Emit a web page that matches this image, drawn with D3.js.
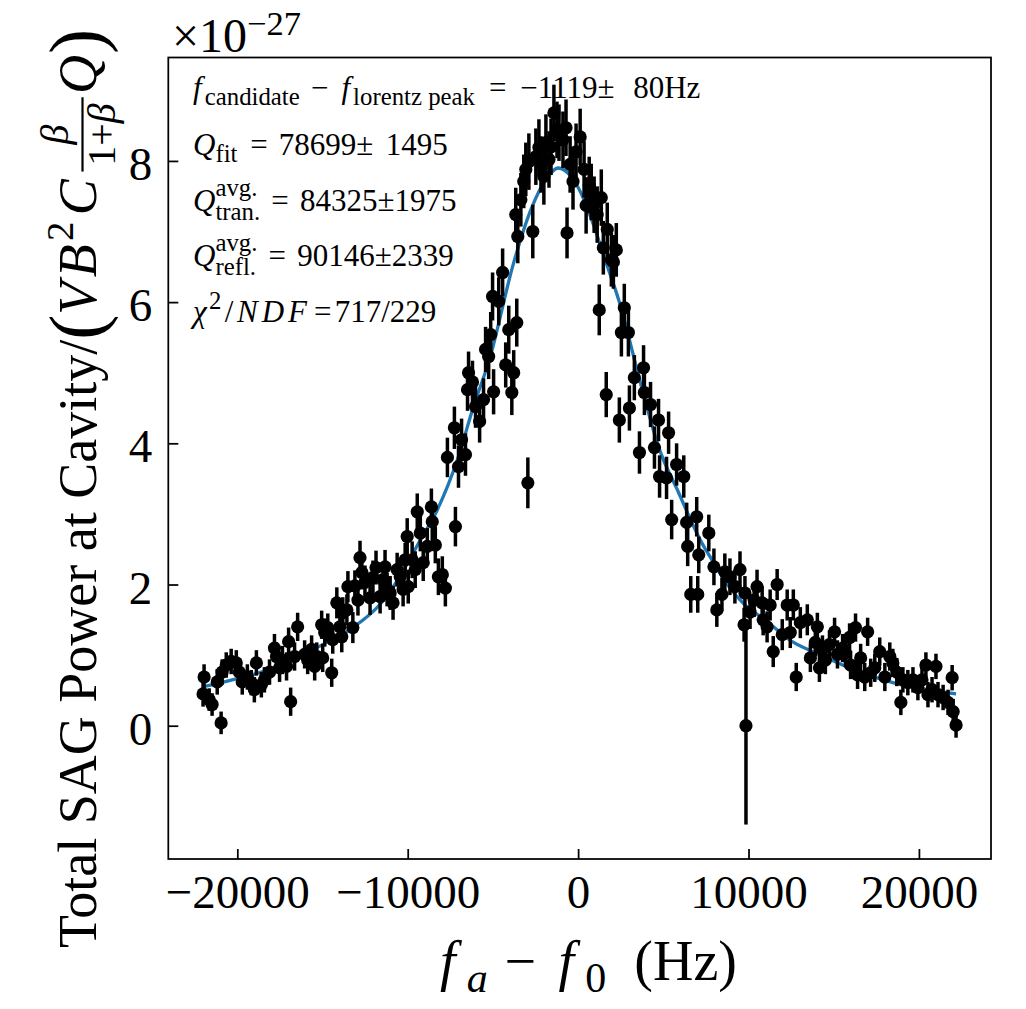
<!DOCTYPE html>
<html><head><meta charset="utf-8">
<script src="https://cdn.jsdelivr.net/npm/d3@7"></script>
<style>body{margin:0;background:#fff}svg{display:block}</style>
</head><body>
<svg id="c" width="1026" height="1009"></svg>
<script>
// ---------- data ----------
const freqHz = [
 -22010,-21950,-21650,-21480,-21180,-20950,-20890,-20650,-20360,-20060,-19880,-19710,-19410,-19180,-19000,-18880,-18590,-18410,-18110,-17820,-17700,-17520,-17350,-17110,-16990,-16870,-16640,-16460,
 -16050,-15870,-15640,-15460,-15340,-15050,-14990,-14870,-14690,-14460,-14400,-14160,-13980,-13870,-13810,-13570,-13510,-13220,-13100,-12920,-12800,-12690,-12510,-12210,-12040,-11860,-11620,-11450,-11330,-11210,-11030,-10860,-10620,
 -10440,-10270,-10150,-10030,-9970,-9740,-9560,-9440,-9260,-9090,-8850,-8610,-8560,-8380,-8200,-7970,-7790,-7670,-7260,-7200,-7020,-6840,-6610,-6490,-6430,-6200,-6020,-5780,
 -5550,-5430,-5250,-5130,-5020,-4960,-4660,-4430,-4250,-4070,-3890,-3780,-3660,-3600,-3540,-3360,-3190,-3070,-2950,-2890,-2660,-2480,-2300,-2180,-2010,-1890,-1710,-1590,-1420,-1240,
 -1120,-890,-710,-650,-470,-300,-120,120,350,470,650,770,940,1120,1240,1360,1480,1650,1710,1950,2070,2240,
 2420,2540,2710,2950,3010,3300,3600,3840,3890,4250,4480,4720,4780,5190,5310,5490,5780,6200,6370,6430,6610,6960,7020,7080,
 7670,7970,8140,8440,8610,8910,9200,9500,9740,9790,9850,10090,10330,10500,10800,10860,11090,11270,11450,11680,11980,12270,12450,12630,12800,13040,
 13450,13630,13920,14040,14160,14340,14510,14750,15050,15220,15520,15690,15930,15990,16280,16400,16580,16820,16990,17170,17410,17700,18000,18290,18470,18700,18940,19060,19350,19650,19940,20180,20410,20530,20770,21000,21120,21420,21710,21950,22010,22180
];
const power = [
 0.45,0.69,0.37,0.30,0.62,0.04,0.76,0.86,0.91,0.89,0.76,0.62,0.69,0.61,0.51,0.89,0.58,0.65,0.76,1.10,0.98,0.82,0.93,0.84,1.19,0.34,0.98,1.40,
 1.01,0.93,1.08,0.84,0.98,1.43,0.96,1.32,1.39,0.75,1.22,1.74,1.40,1.26,1.60,1.64,1.97,1.39,1.98,1.78,2.38,2.17,2.03,1.81,2.10,2.24,1.83,2.07,2.25,1.93,1.88,1.74,2.21,
 2.11,1.93,2.35,2.68,1.97,2.35,2.21,3.03,2.73,2.31,2.54,3.10,2.89,2.56,2.11,2.14,1.95,3.80,4.22,2.82,3.67,4.05,3.84,4.76,5.00,4.87,4.52,4.31,
 4.62,5.33,5.23,5.54,6.08,4.73,6.01,6.42,5.11,5.61,4.72,5.00,7.24,5.71,6.93,7.45,7.71,7.88,3.44,7.99,7.00,8.06,8.19,7.95,7.78,8.26,8.02,8.20,8.68,8.44,
 8.40,8.30,8.47,6.98,7.95,7.71,8.13,8.34,7.88,7.37,7.66,7.56,7.38,7.24,5.89,7.48,6.77,4.69,7.03,6.60,6.57,6.74,
 4.33,5.57,5.92,5.57,4.50,4.93,3.87,5.07,4.72,4.55,3.94,4.33,3.53,3.51,4.15,2.92,3.70,3.53,2.88,2.54,1.86,2.96,1.86,2.42,
 2.73,2.25,1.64,1.86,2.18,2.11,1.97,2.21,1.43,1.88,0.00,1.61,1.78,1.97,1.74,1.50,1.40,1.71,1.05,2.00,1.29,1.71,1.32,1.71,0.69,1.46,
 1.50,0.96,1.18,1.40,0.82,1.08,0.93,1.15,1.33,1.01,1.10,1.03,1.25,0.86,1.39,0.72,0.96,0.69,1.33,0.75,0.82,1.05,0.69,0.98,0.89,0.76,0.33,0.65,0.61,0.65,0.54,0.65,0.86,0.44,0.51,0.84,0.44,0.40,0.33,0.68,0.20,0.01
];
const powerErr = [
 0.18,0.18,0.16,0.16,0.18,0.16,0.18,0.18,0.18,0.18,0.18,0.18,0.18,0.18,0.18,0.18,0.18,0.18,0.18,0.2,0.2,0.2,0.2,0.2,0.2,0.2,0.2,0.2,
 0.2,0.2,0.2,0.2,0.2,0.2,0.2,0.2,0.2,0.2,0.2,0.22,0.22,0.22,0.22,0.22,0.22,0.22,0.22,0.22,0.24,0.24,0.24,0.24,0.24,0.24,0.24,0.24,0.24,0.24,0.24,0.24,0.24,
 0.24,0.24,0.24,0.26,0.24,0.26,0.26,0.26,0.26,0.26,0.26,0.26,0.26,0.26,0.26,0.26,0.26,0.28,0.3,0.28,0.3,0.3,0.3,0.3,0.3,0.3,0.3,0.3,
 0.3,0.32,0.32,0.32,0.34,0.32,0.34,0.34,0.32,0.34,0.32,0.32,0.38,0.34,0.38,0.38,0.38,0.38,0.36,0.4,0.38,0.4,0.4,0.4,0.4,0.4,0.4,0.4,0.4,0.4,
 0.4,0.4,0.4,0.36,0.4,0.4,0.4,0.4,0.4,0.4,0.4,0.4,0.4,0.4,0.36,0.4,0.38,0.32,0.38,0.38,0.38,0.38,
 0.32,0.34,0.34,0.34,0.32,0.32,0.3,0.32,0.32,0.32,0.3,0.3,0.3,0.3,0.3,0.28,0.3,0.3,0.28,0.28,0.26,0.28,0.26,0.26,
 0.26,0.26,0.24,0.24,0.26,0.26,0.24,0.26,0.24,0.24,1.4,0.24,0.24,0.24,0.24,0.22,0.22,0.22,0.22,0.22,0.22,0.22,0.22,0.22,0.2,0.22,
 0.22,0.2,0.2,0.2,0.2,0.2,0.2,0.2,0.2,0.2,0.2,0.2,0.2,0.2,0.2,0.2,0.2,0.2,0.2,0.2,0.2,0.2,0.2,0.2,0.2,0.2,0.18,0.18,0.18,0.18,0.18,0.18,0.18,0.18,0.18,0.18,0.18,0.18,0.18,0.18,0.18,0.18
];
// Lorentzian fit curve
const fitFreq  = [-22070,-20470,-18590,-16340,-14750,-13220,-11620,-10620,-9260,-8260,-7080,-6140,-5190,-3780,-2770,-1770,-1180,-410,350,940,1530,2420,3720,4720,5900,7260,7850,8850,9790,10970,12570,14160,15520,18470,22180];
const fitPower = [0.55,0.64,0.76,0.98,1.18,1.39,1.72,2.05,2.63,3.06,3.77,4.52,5.20,6.56,7.31,7.78,7.90,7.78,7.45,7.07,6.64,6.00,4.80,3.95,3.30,2.59,2.35,1.97,1.71,1.50,1.19,1.01,0.86,0.61,0.45];
const xTicks = [-20000,-10000,0,10000,20000];
const yTicks = [0,2,4,6,8];

// ---------- layout ----------
const FONT = "'Liberation Serif','Times New Roman',serif";
const P = {left:168.3, right:991, top:57.5, bottom:859};
const svg = d3.select('#c');
const x = d3.scaleLinear().domain([-24050,24230]).range([P.left,P.right]);
const y = d3.scaleLinear().domain([-1.888,9.465]).range([P.bottom,P.top]);
const pts = freqHz.map((f,i)=>({f, v:power[i], e:powerErr[i]}));

// fit line (below points)
svg.append('path')
  .datum(fitFreq.map((f,i)=>[f,fitPower[i]]))
  .attr('fill','none').attr('stroke','#1f77b4').attr('stroke-width',3.3)
  .attr('d', d3.line().x(d=>x(d[0])).y(d=>y(d[1])).curve(d3.curveMonotoneX));

// error bars
svg.append('g').selectAll('line').data(pts).join('line')
  .attr('x1',d=>x(d.f)).attr('x2',d=>x(d.f))
  .attr('y1',d=>y(d.v-d.e)).attr('y2',d=>y(d.v+d.e))
  .attr('stroke','#000').attr('stroke-width',3.5);
// points
svg.append('g').selectAll('circle').data(pts).join('circle')
  .attr('cx',d=>x(d.f)).attr('cy',d=>y(d.v)).attr('r',6.6).attr('fill','#000');

// frame
svg.append('rect').attr('x',P.left).attr('y',P.top)
  .attr('width',P.right-P.left).attr('height',P.bottom-P.top)
  .attr('fill','none').attr('stroke','#000').attr('stroke-width',1.75);

const fmt = d => d<0 ? '\u2212'+Math.abs(d) : String(d);
const gx = svg.append('g').attr('transform',`translate(0,${P.bottom})`)
  .call(d3.axisBottom(x).tickValues(xTicks).tickFormat(fmt).tickSizeInner(-10).tickSizeOuter(0));
const gy = svg.append('g').attr('transform',`translate(${P.left},0)`)
  .call(d3.axisLeft(y).tickValues(yTicks).tickFormat(fmt).tickSizeInner(-10).tickSizeOuter(0));
[gx,gy].forEach(g=>{
  g.select('.domain').remove();
  g.selectAll('.tick line').attr('stroke','#000').attr('stroke-width',1.75);
  g.selectAll('.tick text').attr('fill','#000').attr('font-family',FONT).attr('font-size',47);
});
gx.selectAll('.tick text').attr('y',49).attr('dy',0);
gy.selectAll('.tick text').attr('x',-16).attr('y',3).attr('dy','0.33em');

// ---------- math-like text helper ----------
function mathText(g, x0, y0, parts, size){
  let cx = x0, stackW = 0;
  parts.forEach(p=>{
    if (p.k !== undefined){ cx += p.k*size; return; }
    const fs = size*(p.sc||1);
    const el = g.append('text').attr('x',cx).attr('y',y0+(p.dy||0)*size)
      .attr('font-family',FONT).attr('font-size',fs)
      .attr('font-style',p.it?'italic':'normal').attr('fill','#000').text(p.t);
    if (p.ls) el.attr('letter-spacing',p.ls);
    const w = el.node().getComputedTextLength();
    if (p.stack==='first') { stackW = w; }
    else if (p.stack==='second') { cx += Math.max(w,stackW) + (p.after||0)*size; }
    else cx += w + (p.after||0)*size;
  });
  return cx;
}

// annotations
const AS = 31, AX = 193, SS = .8;
const ann = svg.append('g');
mathText(ann, AX, 98, [
  {t:'f',it:1,after:.1},{t:'candidate',sc:SS,dy:.22},{k:.36},{t:'\u2212'},{k:.42},
  {t:'f',it:1,after:.1},{t:'lorentz peak',sc:SS,dy:.22},{k:.45},{t:'='},{k:.45},{t:'\u22121119\u00B1'},{k:.6},{t:'80Hz'}], AS);
mathText(ann, AX, 155, [
  {t:'Q',it:1},{t:'fit',sc:SS,dy:.22,after:.05},{k:.36},{t:'='},{k:.36},{t:'78699\u00B1'},{k:.4},{t:'1495'}], AS);
mathText(ann, AX, 211, [
  {t:'Q',it:1},{t:'avg.',sc:SS,dy:-.5,stack:'first'},{t:'tran.',sc:SS,dy:.3,stack:'second'},
  {k:.36},{t:'='},{k:.36},{t:'84325\u00B11975'}], AS);
mathText(ann, AX, 266, [
  {t:'Q',it:1},{t:'avg.',sc:SS,dy:-.5,stack:'first'},{t:'refl.',sc:SS,dy:.3,stack:'second'},
  {k:.36},{t:'='},{k:.36},{t:'90146\u00B12339'}], AS);
mathText(ann, AX, 322, [
  {t:'\u03C7',it:1,after:.08},{t:'2',sc:SS,dy:-.42,after:.1},{t:'/',after:.12},{t:'NDF',it:1,ls:4,after:.1},{t:'=',after:.1},{t:'717/229'}], AS);

// offset text ×10^-27
mathText(svg.append('g'), 172, 52, [{t:'\u00D710'},{t:'\u221227',sc:.72,dy:-.36}], 48);

// x label
mathText(svg.append('g'), 440, 980, [
  {t:'f',it:1,after:.2},{t:'a',it:1,sc:.75,dy:.22},{k:.3},{t:'\u2212'},{k:.4},
  {t:'f',it:1,after:.2},{t:'0',sc:.75,dy:.22},{k:.5},{t:'(Hz)'}], 56);

// y label (rotated)
const YS = 54;
const gl = svg.append('g').attr('transform','translate(96,948) rotate(-90)');
let cx = mathText(gl, 0, 0, [{t:'Total SAG Power at Cavity/'}], YS);
cx = mathText(gl, cx, 0.12*YS, [{t:'(',sc:1.4}], YS);
cx = mathText(gl, cx, 0, [{t:'V',it:1,after:.08},{t:'B',it:1,after:.06},{t:'2',sc:.72,dy:-.42,after:.12},{t:'C',it:1,after:.14}], YS);
// fraction beta/(1+beta)
{
  const fs = .74;
  const num = gl.append('text').attr('font-family',FONT).attr('font-size',YS*fs).attr('font-style','italic').text('\u03B2');
  const den = gl.append('text').attr('font-family',FONT).attr('font-size',YS*fs).text('1+');
  const denB = gl.append('text').attr('font-family',FONT).attr('font-size',YS*fs).attr('font-style','italic').text('\u03B2');
  const wn = num.node().getComputedTextLength();
  const wd1 = den.node().getComputedTextLength(), wd2 = denB.node().getComputedTextLength();
  const wd = wd1+wd2, w = Math.max(wn,wd)+0.22*YS;
  num.attr('x', cx+(w-wn)/2).attr('y', -0.52*YS);
  den.attr('x', cx+(w-wd)/2).attr('y', 0.36*YS);
  denB.attr('x', cx+(w-wd)/2+wd1).attr('y', 0.36*YS);
  gl.append('line').attr('x1',cx).attr('x2',cx+w).attr('y1',-0.25*YS).attr('y2',-0.25*YS)
    .attr('stroke','#000').attr('stroke-width',2.2);
  cx += w + 0.06*YS;
}
cx = mathText(gl, cx, 0, [{t:'Q',it:1,after:.02}], YS);
mathText(gl, cx, 0.12*YS, [{t:')',sc:1.4}], YS);
</script>
</body></html>
